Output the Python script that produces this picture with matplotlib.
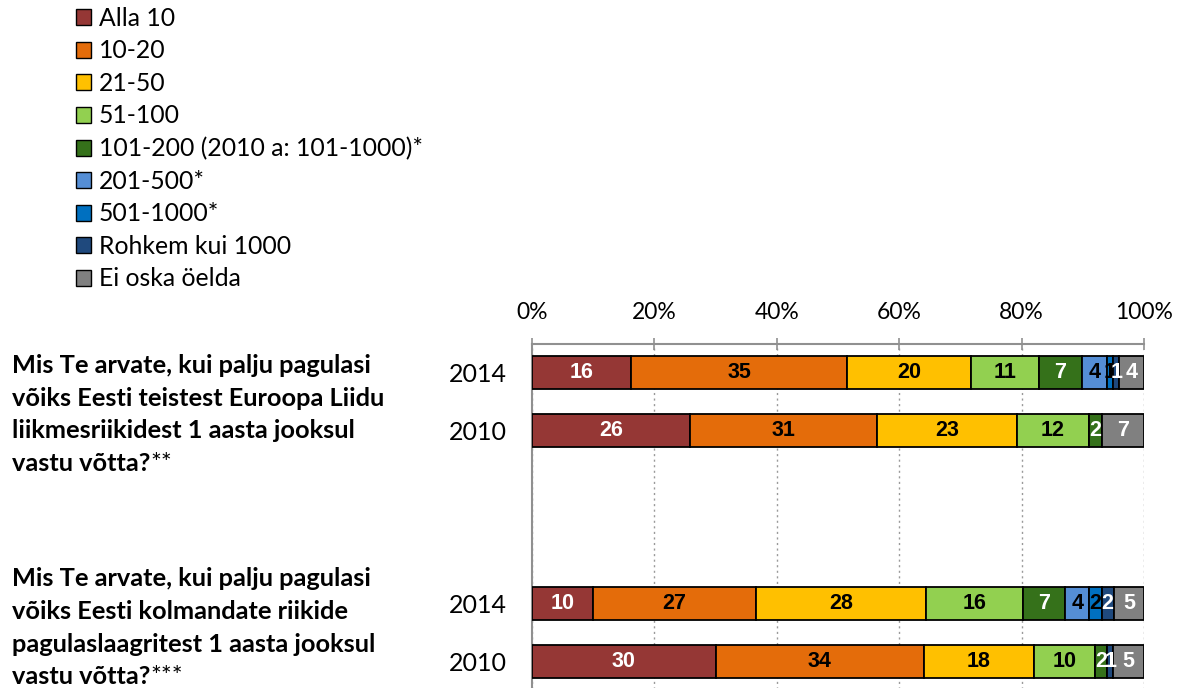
import numpy as np
import matplotlib
matplotlib.use('Agg')
import matplotlib.pyplot as plt
from matplotlib.patches import Patch

plt.rcParams['font.family'] = ['Lato', 'DejaVu Sans']

# categories (legend order = stacking order)
categories = ['Alla 10', '10-20', '21-50', '51-100', '101-200 (2010 a: 101-1000)*',
              '201-500*', '501-1000*', 'Rohkem kui 1000', 'Ei oska öelda']
colors = ['#953735', '#E46C0A', '#FFC000', '#92D050', '#35711A',
          '#558ED5', '#0070C0', '#1F497D', '#808080']
label_colors = ['white', 'black', 'black', 'black', 'white',
                'black', 'black', 'white', 'white']

# rows top to bottom (blank rows separate the two questions)
row_labels = ['2014', '2010', '', '', '2014', '2010']
eu_2014 = [16, 35, 20, 11, 7, 4, 1, 1, 4]
eu_2010 = [26, 31, 23, 12, 2, 0, 0, 0, 7]
camp_2014 = [10, 27, 28, 16, 7, 4, 2, 2, 5]
camp_2010 = [30, 34, 18, 10, 2, 0, 0, 1, 5]
rows = [eu_2014, eu_2010, None, None, camp_2014, camp_2010]

question_eu = ['Mis Te arvate, kui palju pagulasi',
               'võiks Eesti teistest Euroopa Liidu',
               'liikmesriikidest 1 aasta jooksul',
               'vastu võtta?']
question_camp = ['Mis Te arvate, kui palju pagulasi',
                 'võiks Eesti kolmandate riikide',
                 'pagulaslaagritest 1 aasta jooksul',
                 'vastu võtta?']

W, H = 1181, 688
fig = plt.figure(figsize=(W / 100, H / 100), dpi=100)
ax = fig.add_axes([532 / W, (H - 690) / H, (1144 - 532) / W, 346 / H])

bar_h = 0.57
for i, vals in enumerate(rows):
    if vals is None:
        continue
    vals = np.array(vals, dtype=float)
    shares = vals / vals.sum() * 100
    left = 0.0
    for j, (v, s) in enumerate(zip(vals, shares)):
        if v > 0:
            ax.barh(i, s, left=left, height=bar_h, color=colors[j],
                    edgecolor='black', linewidth=1.3, zorder=3)
            ax.text(left + s / 2, i, f'{int(v)}', ha='center', va='center',
                    color=label_colors[j], fontsize=15.5, fontweight='bold',
                    family='Liberation Sans', zorder=4)
        left += s

ax.set_xlim(0, 100)
ax.set_ylim(5.5, -0.5)
ax.xaxis.tick_top()
ax.set_xticks(np.arange(0, 101, 20))
ax.set_xticklabels([f'{t}%' for t in range(0, 101, 20)], fontsize=16.5)
ax.tick_params(axis='x', direction='inout', length=8, width=1.2, color='#909090', pad=11)
ax.set_yticks(range(len(row_labels)))
ax.set_yticklabels(row_labels, fontsize=18)
ax.tick_params(axis='y', length=0, pad=18)
ax.grid(axis='x', color='#999999', linestyle=(0, (1.5, 2.5)), linewidth=1, zorder=0)
for side in ['right', 'bottom']:
    ax.spines[side].set_visible(False)
for side in ['top', 'left']:
    ax.spines[side].set_color('#909090')
    ax.spines[side].set_linewidth(1.5)

# question texts, asterisks in normal weight
def question(lines, y0, stars):
    t = None
    for k, line in enumerate(lines):
        t = fig.text(12 / W, 1 - (y0 + k * 32.5) / H, line, fontsize=18.3,
                     fontweight='bold', va='center', ha='left')
    ax.annotate(stars, xy=(1, 0.5), xycoords=t, va='center', ha='left',
                fontsize=18.3, annotation_clip=False)

question(question_eu, 366, '**')
question(question_camp, 579, '***')

handles = [Patch(facecolor=c, edgecolor='black', linewidth=1) for c in colors]
fig.legend(handles, categories, loc='upper left', bbox_to_anchor=(66 / W, 1 + 3 / H),
           frameon=False, fontsize=17.8, handlelength=0.62, handleheight=0.62,
           handletextpad=0.3, labelspacing=0.385, borderaxespad=0)

fig.savefig('out.png', dpi=100)
